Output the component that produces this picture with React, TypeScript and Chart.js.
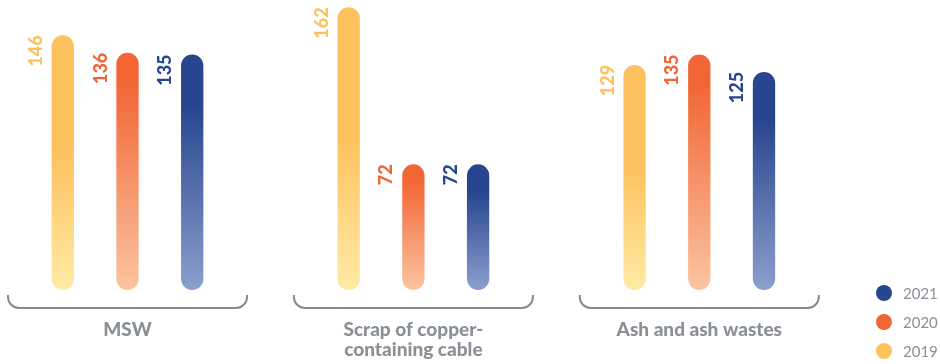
import React, { useEffect, useRef } from "react";
import { Chart, registerables } from "chart.js";

Chart.register(...registerables);

// Waste categories (multi-line labels are arrays of lines)
const categories: (string | string[])[] = [
  "MSW",
  ["Scrap of copper-", "containing cable"],
  "Ash and ash wastes",
];

const years = ["2019", "2020", "2021"];

const values2019 = [146, 162, 129];
const values2020 = [136, 72, 135];
const values2021 = [135, 72, 125];

// Solid (top) and faded (bottom) colour of each year's bars
const topColors = ["#FDC15E", "#F26535", "#28468F"];
const bottomColors = ["#FFEBA4", "#FBC4A1", "#8C9FCD"];
const solidStops = [0.45, 0.12, 0.22];

const labelGray = "#8A9096";
const bracketGray = "#848B91";

const seriesValues = [values2019, values2020, values2021];

function barGradient(seriesIdx: number) {
  return (ctx: any) => {
    const chart = ctx.chart;
    const raw = ctx.raw;
    if (!chart.chartArea || !raw || ctx.type !== "data") return topColors[seriesIdx];
    const yScale = chart.scales.y;
    const top = yScale.getPixelForValue(raw.y);
    const bottom = yScale.getPixelForValue(0);
    const g = chart.ctx.createLinearGradient(0, top, 0, bottom);
    g.addColorStop(0, topColors[seriesIdx]);
    g.addColorStop(solidStops[seriesIdx], topColors[seriesIdx]);
    g.addColorStop(1, bottomColors[seriesIdx]);
    return g;
  };
}

// Rotated value labels placed just left of each bar's top
const valueLabels = {
  id: "valueLabels",
  afterDatasetsDraw(chart: any) {
    const { ctx } = chart;
    chart.data.datasets.forEach((ds: any, di: number) => {
      const meta = chart.getDatasetMeta(di);
      meta.data.forEach((bar: any, i: number) => {
        const v = ds.data[i].y;
        ctx.save();
        ctx.translate(bar.x - 21, bar.y);
        ctx.rotate(-Math.PI / 2);
        ctx.font = "900 18px Lato";
        ctx.fillStyle = topColors[di];
        ctx.textAlign = "right";
        ctx.textBaseline = "alphabetic";
        ctx.fillText(String(v), 0, 0);
        ctx.restore();
      });
    });
  },
};

// Curly bracket under each category group
const groupBrackets = {
  id: "groupBrackets",
  afterDraw(chart: any) {
    const { ctx } = chart;
    const xs = chart.scales.x;
    const half = 119.5;
    const y0 = 295;
    const y1 = 308;
    const r = 11;
    ctx.save();
    ctx.strokeStyle = bracketGray;
    ctx.lineWidth = 2;
    categories.forEach((_, i) => {
      const cx = xs.getPixelForValue(i);
      const l = cx - half;
      const rt = cx + half;
      ctx.beginPath();
      ctx.moveTo(l, y0);
      ctx.lineTo(l, y1 - r);
      ctx.arcTo(l, y1, l + r, y1, r);
      ctx.lineTo(rt - r, y1);
      ctx.arcTo(rt, y1, rt, y1 - r, r);
      ctx.lineTo(rt, y0);
      ctx.stroke();
    });
    ctx.restore();
  },
};

// Vertical legend in the lower right corner, newest year on top
const cornerLegend = {
  id: "cornerLegend",
  afterDraw(chart: any) {
    const { ctx } = chart;
    const n = chart.data.datasets.length;
    ctx.save();
    ctx.font = "15px Lato";
    ctx.textAlign = "left";
    ctx.textBaseline = "middle";
    for (let k = 0; k < n; k++) {
      const di = n - 1 - k;
      const y = 293 + k * 29;
      ctx.beginPath();
      ctx.fillStyle = topColors[di];
      ctx.arc(884, y, 8, 0, Math.PI * 2);
      ctx.fill();
      ctx.fillStyle = labelGray;
      ctx.fillText(chart.data.datasets[di].label, 903, y + 1);
    }
    ctx.restore();
  },
};

export default function App() {
  const canvasRef = useRef<HTMLCanvasElement | null>(null);

  useEffect(() => {
    document.body.style.margin = "0";
    const canvas = canvasRef.current;
    if (!canvas) return;
    const chart = new Chart(canvas, {
      type: "bar",
      data: {
        datasets: years.map((year, si) => ({
          label: year,
          data: seriesValues[si].map((v, i) => ({ x: i, y: v })),
          backgroundColor: barGradient(si),
          borderWidth: 0,
          borderRadius: 20,
          borderSkipped: false,
          categoryPercentage: 0.679,
          barPercentage: 0.345,
        })),
      },
      options: {
        responsive: false,
        animation: false,
        devicePixelRatio: 1,
        layout: { padding: { left: 0, right: 0, top: 0, bottom: 0 } },
        plugins: {
          legend: { display: false },
          tooltip: { enabled: false },
        },
        scales: {
          x: {
            type: "linear",
            min: -0.446,
            max: 2.842,
            bounds: "data",
            offset: false,
            grid: { display: false, drawTicks: false, offset: false },
            border: { display: false },
            afterBuildTicks: (scale: any) => {
              scale.ticks = categories.map((_, i) => ({ value: i }));
            },
            ticks: {
              autoSkip: false,
              maxRotation: 0,
              minRotation: 0,
              padding: 30,
              color: labelGray,
              font: { family: "Lato", size: 19, weight: "900", lineHeight: 1.05 },
              callback: (value: any) =>
                Number.isInteger(value) && categories[value] !== undefined
                  ? categories[value]
                  : "",
            },
            afterFit: (scale: any) => {
              scale.height = 74;
            },
          },
          y: {
            display: false,
            min: 0,
            max: 166.2,
          },
        },
      },
      plugins: [valueLabels, groupBrackets, cornerLegend],
    } as any);
    return () => chart.destroy();
  }, []);

  return (
    <div style={{ position: "fixed", left: 0, top: 0, width: 940, height: 364 }}>
      <canvas ref={canvasRef} width={940} height={364} style={{ width: 940, height: 364, display: "block" }} />
    </div>
  );
}
